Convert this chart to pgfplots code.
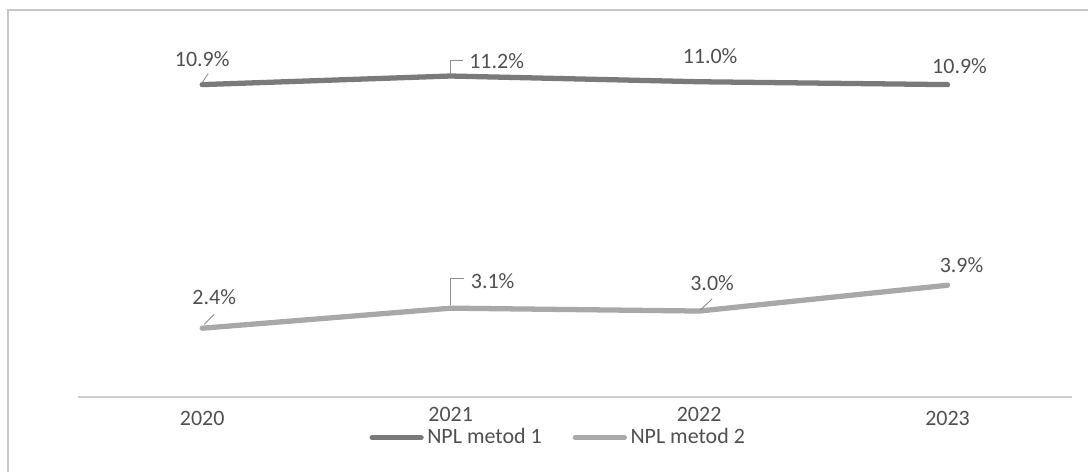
\documentclass[border=0pt]{standalone}
\usepackage{fontspec}
\setmainfont{Carlito}
\usepackage{pgfplots}
\pgfplotsset{compat=1.18}

\definecolor{ser1}{RGB}{122,122,122}
\definecolor{ser2}{RGB}{168,168,168}
\definecolor{axgray}{RGB}{205,205,205}
\definecolor{txt}{RGB}{80,80,80}

\tikzset{lbl/.style={font=\fontsize{12.5}{15}\selectfont, text=txt, inner sep=1pt}}

\begin{document}
\begin{tikzpicture}[x=0.02cm,y=0.02cm]
\useasboundingbox (0,0) rectangle (1088,471);
\draw[draw=black!22, line width=0.8pt] (8,-30) rectangle (1120,461);
\begin{axis}[
    at={(1.56cm,1.48cm)}, anchor=south west,
    scale only axis,
    width=19.88cm, height=6.88cm,
    xmin=-0.5, xmax=3.5, ymin=0, ymax=12,
    axis y line=none,
    axis x line=bottom,
    axis line style={draw=axgray, line width=0.8pt, -},
    xtick={0,1,2,3},
    xticklabels={2020,\raisebox{4.5pt}{2021},\raisebox{4.5pt}{2022},2023},
    major tick length=0pt,
    xticklabel style={anchor=center, yshift=-0.42cm, font=\fontsize{12.5}{15}\selectfont, text=txt},
    legend style={at={(0.484,-0.118)}, anchor=center, draw=none, fill=none,
        font=\fontsize{12.5}{15}\selectfont, text=txt, inner sep=0pt,
        legend columns=2,
        /tikz/every even column/.append style={column sep=0.55cm},
        legend cell align=left},
    legend image code/.code={\draw[#1, line width=3pt] (0cm,0cm) -- (0.98cm,0cm);},
    clip=false,
]
\addplot[ser1, line width=3pt, line cap=round, line join=round] coordinates {(0,10.9) (1,11.2) (2,11.0) (3,10.9)};
\addlegendentry{NPL metod 1}
\addplot[ser2, line width=3pt, line cap=round, line join=round] coordinates {(0,2.4) (1,3.1) (2,3.0) (3,3.9)};
\addlegendentry{NPL metod 2}

% data labels
\node[lbl] at ([xshift=0.0cm, yshift=0.51cm]axis cs:0,10.9) {10.9\%};
\node[lbl] at ([xshift=0.92cm, yshift=0.30cm]axis cs:1,11.2) {11.2\%};
\node[lbl] at ([xshift=0.22cm, yshift=0.52cm]axis cs:2,11.0) {11.0\%};
\node[lbl] at ([xshift=0.24cm, yshift=0.38cm]axis cs:3,10.9) {10.9\%};
\node[lbl] at ([xshift=0.24cm, yshift=0.62cm]axis cs:0,2.4) {2.4\%};
\node[lbl] at ([xshift=0.84cm, yshift=0.54cm]axis cs:1,3.1) {3.1\%};
\node[lbl] at ([xshift=0.26cm, yshift=0.56cm]axis cs:2,3.0) {3.0\%};
\node[lbl] at ([xshift=0.28cm, yshift=0.40cm]axis cs:3,3.9) {3.9\%};

% leader lines
\draw[black!45, line width=0.5pt] ([yshift=0.04cm]axis cs:0,10.9) -- ([xshift=0.12cm, yshift=0.22cm]axis cs:0,10.9);
\draw[black!45, line width=0.5pt] ([yshift=0.04cm]axis cs:1,11.2) -- ([yshift=0.32cm]axis cs:1,11.2) -- ([xshift=0.24cm, yshift=0.32cm]axis cs:1,11.2);
\draw[black!45, line width=0.5pt] ([xshift=0.04cm, yshift=0.08cm]axis cs:0,2.4) -- ([xshift=0.24cm, yshift=0.28cm]axis cs:0,2.4);
\draw[black!45, line width=0.5pt] ([yshift=0.06cm]axis cs:1,3.1) -- ([yshift=0.6cm]axis cs:1,3.1) -- ([xshift=0.26cm, yshift=0.6cm]axis cs:1,3.1);
\draw[black!45, line width=0.5pt] ([xshift=0.02cm, yshift=0.02cm]axis cs:2,3.0) -- ([xshift=0.26cm, yshift=0.24cm]axis cs:2,3.0);
\end{axis}
\end{tikzpicture}
\end{document}
